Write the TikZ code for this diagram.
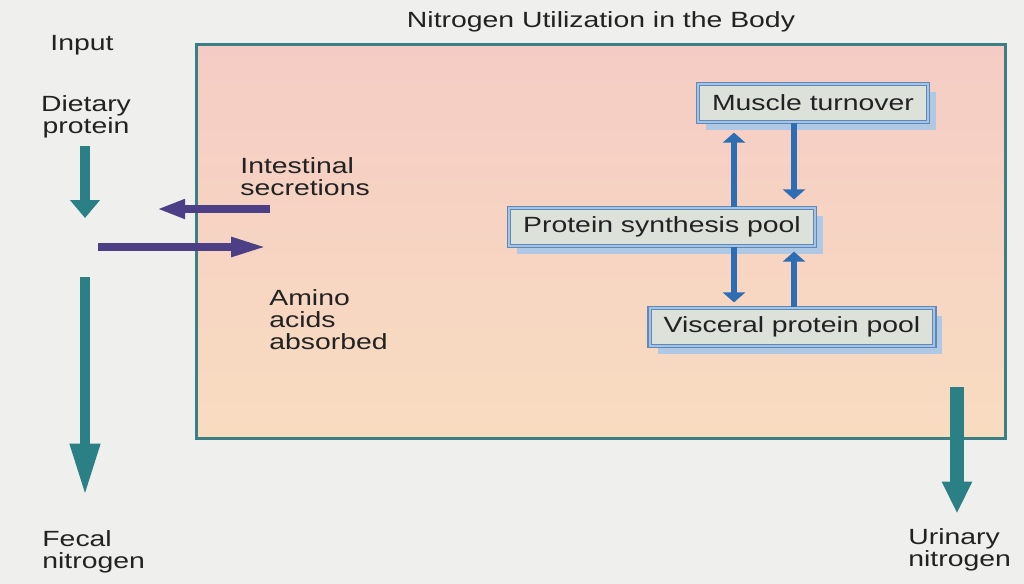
\documentclass[tikz,border=0pt]{standalone}
\usepackage{fontspec}
\setmainfont{Liberation Sans}[FakeStretch=1.29]
\usepackage{xcolor}
\usetikzlibrary{arrows.meta,positioning,shadows}

\definecolor{pagebg}{HTML}{EFEFED}
\definecolor{inkgrey}{HTML}{222222}
\definecolor{bodyedge}{HTML}{3A7F86}
\definecolor{bodytop}{HTML}{F5CCC5}
\definecolor{bodybottom}{HTML}{F8DCC0}
\definecolor{arrowteal}{HTML}{2A8085}
\definecolor{arrowpurple}{HTML}{4C3F85}
\definecolor{arrowblue}{HTML}{2C6DB3}
\definecolor{poolline}{HTML}{5B89BD}
\definecolor{poolband}{HTML}{A9C3DF}
\definecolor{poolfill}{HTML}{DCE2DA}
\definecolor{poolshadow}{HTML}{AFC8E4}

\begin{document}
\begin{tikzpicture}[
  x=0.5pt, y=-0.5pt,
  font=\fontsize{11}{11}\selectfont,
  txt/.style={inner sep=0pt, text=inkgrey, align=left},
  pool/.style={draw=poolline, double=poolband, double distance=1.1pt, line width=0.6pt, fill=poolfill, text=inkgrey, minimum height=19pt, inner xsep=7pt, drop shadow={shadow xshift=4pt, shadow yshift=-4pt, fill=poolshadow, opacity=1}},
  bodybox/.style={draw=bodyedge, line width=1.5pt, top color=bodytop, bottom color=bodybottom},
  tealflow/.style={draw=arrowteal, line width=5pt, -{Triangle[length=9pt, width=14.5pt]}},
  purpleflow/.style={draw=arrowpurple, line width=4pt, -{Triangle[length=14pt, width=9pt]}},
  poolarrow/.style={draw=arrowblue, line width=3pt, -{Triangle[length=5pt, width=11pt]}}
]
\fill[pagebg] (0,0) rectangle (1024,584);
\useasboundingbox (0,0) rectangle (1024,584);

% body compartment
\draw[bodybox] (196,44) rectangle (1005,438);
\node[txt, anchor=base] (title) at (601,27) {Nitrogen Utilization in the Body};

% gut side (base = last line)
\node[txt, anchor=base west] (input) at (50,50) {Input};
\node[txt, align=center, anchor=base] (diet) at (86,133) {Dietary\\protein};
\node[txt, anchor=base west] (secr) at (240,195) {Intestinal\\secretions};
\node[txt, anchor=base west] (amino) at (269,349) {Amino\\acids\\absorbed};
\node[txt, anchor=base west] (fecal) at (42,568) {Fecal\\nitrogen};
\node[txt, anchor=base west] (urine) at (908,566) {Urinary\\nitrogen};

% pools
\node[pool] (muscle) at (813,103) {Muscle turnover};
\node[pool] (synth) at (662,227) {Protein synthesis pool};
\node[pool] (visc) at (792,327) {Visceral protein pool};

\coordinate (dietend) at (85,218);
\coordinate (fecalstart) at (85,277);
\coordinate (secrstart) at (270,209);
\coordinate (secrend) at (157,209);
\coordinate (absstart) at (98,247);
\coordinate (absend) at (267,247);
\coordinate (bodyout) at (957,387);
\coordinate (laneup) at (734,0);
\coordinate (lanedown) at (794,0);

\draw[tealflow, shorten <=4pt] (diet.south -| dietend) -- (dietend);
\draw[tealflow, -{Triangle[length=26pt, width=14pt]}, shorten >=17pt] (fecalstart) -- (fecal.north -| fecalstart);
\draw[purpleflow] (secrstart) -- (secrend);
\draw[purpleflow, -{Triangle[length=18pt, width=9pt]}] (absstart) -- (absend);
\draw[tealflow, line width=7pt, -{Triangle[length=16pt, width=14pt]}, shorten >=7pt] (bodyout) -- (urine.north -| bodyout);

\draw[poolarrow, shorten >=5pt] (laneup |- synth.north) -- (laneup |- muscle.south);
\draw[poolarrow, shorten >=4pt] (lanedown |- muscle.south) -- (lanedown |- synth.north);
\draw[poolarrow, shorten >=2.5pt] (laneup |- synth.south) -- (laneup |- visc.north);
\draw[poolarrow, shorten >=2.5pt] (lanedown |- visc.north) -- (lanedown |- synth.south);
\end{tikzpicture}
\end{document}
